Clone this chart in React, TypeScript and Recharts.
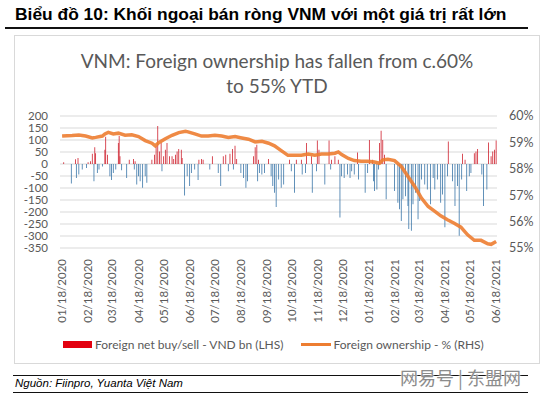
import React from "react";
import {
  Bar,
  CartesianGrid,
  Cell,
  ComposedChart,
  Line,
  XAxis,
  YAxis,
} from "recharts";

// x positions are days since 18 Jan 2020
const tickLabels = [
  "01/18/2020", "02/18/2020", "03/18/2020", "04/18/2020", "05/18/2020", "06/18/2020",
  "07/18/2020", "08/18/2020", "09/18/2020", "10/18/2020", "11/18/2020", "12/18/2020",
  "01/18/2021", "02/18/2021", "03/18/2021", "04/18/2021", "05/18/2021", "06/18/2021",
];

const flowDays = [
  2, 11, 16, 17, 19, 20, 24, 29, 31, 34, 36, 38, 39, 40, 42, 44, 48, 51, 52, 54,
  57, 59, 61, 64, 67, 68, 69, 71, 77, 80, 85, 86, 87, 89, 91, 93, 96, 99, 101, 107,
  110, 112, 114, 116, 118, 119, 121, 123, 125, 128, 131, 133, 135, 137, 139, 142, 143, 146, 149, 152,
  154, 158, 162, 163, 166, 168, 176, 179, 186, 189, 192, 195, 198, 200, 203, 204, 206, 208, 213, 216,
  219, 221, 228, 230, 232, 233, 234, 235, 238, 241, 246, 249, 251, 253, 255, 258, 261, 264, 271, 273,
  277, 279, 285, 286, 290, 291, 297, 298, 303, 304, 306, 313, 318, 320, 321, 325, 329, 331, 333, 336,
  340, 343, 345, 348, 352, 353, 361, 364, 366, 370, 371, 372, 375, 377, 378, 380, 382, 384, 386, 396,
  400, 402, 404, 406, 409, 412, 413, 416, 418, 421, 424, 426, 428, 432, 435, 439, 442, 444, 447, 451,
  453, 456, 459, 460, 465, 468, 471, 473, 476, 477, 480, 482, 485, 487, 491, 493, 495, 500, 502, 506,
  508, 511, 513, 515, 517,
];

const flowValues = [
  7, -81, 20, -58, 25, -44, -23, -17, 7, 11, 43, -72, 70, 45, -37, -23, -10, 59, 114, 39,
  -51, -67, -37, -23, 87, 117, 32, -26, -58, 18, 21, -23, 11, -85, -51, -72, -99, -51, -78, 18,
  39, 73, 158, 52, 87, -30, 32, 59, 87, 32, 32, 21, 39, 52, 62, 59, 25, -131, -51, -92,
  -37, -23, -67, 18, 21, 18, -23, 32, -37, -92, 32, 39, -30, 43, 62, -23, 76, 21, -37, -58,
  -99, -72, 32, 70, 80, -72, 18, -37, -44, -37, 21, -51, -92, -120, -179, -65, -99, -85, 18, -30,
  -120, 18, 18, -44, -37, 87, 32, -120, -30, 98, 59, -85, 98, -23, 18, 32, 18, -223, -51, -58,
  -44, -58, -30, -44, 48, -65, -120, -37, 100, 18, -72, -113, -106, -23, 87, 139, 100, 39, -147, -113,
  -161, -189, -237, -147, -134, -175, -271, -278, -168, -120, -230, -154, -65, -85, -106, -168, -58, -106, -65, -161,
  -127, -264, -51, 94, -72, -175, -92, -299, -65, 43, 18, -113, -51, -37, 45, 52, 62, -44, -175, -106,
  90, 32, 52, 59, 98,
];

const ownDays = [
  0, 12, 20, 28, 36, 40, 48, 51, 55, 61, 67, 75, 83, 91, 99, 107, 111, 115, 123, 131,
  139, 147, 150, 158, 166, 174, 182, 190, 198, 206, 214, 222, 230, 238, 246, 253, 261, 269, 277, 285,
  293, 301, 309, 317, 325, 329, 333, 341, 348, 356, 364, 372, 378, 382, 388, 396, 404, 412, 420, 428,
  436, 444, 451, 459, 467, 475, 483, 491, 499, 507, 511, 517,
];

const ownValues = [
  59.24, 59.26, 59.28, 59.24, 59.17, 59.19, 59.24, 59.32, 59.38, 59.32, 59.35, 59.27, 59.29, 59.22, 59.07, 58.97, 58.87, 58.99, 59.14, 59.27,
  59.37, 59.42, 59.4, 59.32, 59.24, 59.24, 59.27, 59.24, 59.19, 59.22, 59.17, 59.12, 59.02, 59.04, 58.97, 58.87, 58.69, 58.51, 58.51, 58.51,
  58.56, 58.51, 58.56, 58.56, 58.59, 58.64, 58.54, 58.39, 58.31, 58.29, 58.29, 58.26, 58.21, 58.34, 58.36, 58.31, 58.09, 57.71, 57.33, 56.89,
  56.57, 56.39, 56.22, 56.07, 55.94, 55.79, 55.5, 55.29, 55.29, 55.16, 55.14, 55.25,
];

const leftTicks = [-350, -300, -250, -200, -150, -100, -50, 0, 50, 100, 150, 200];
const rightTicks = [55, 56, 57, 58, 59, 60];

const toDay = (s: string) => {
  const [m, d, y] = s.split("/").map(Number);
  return Math.round((Date.UTC(y, m - 1, d) - Date.UTC(2020, 0, 18)) / 86400000);
};
const tickDays = tickLabels.map(toDay);
const labelByDay: Record<number, string> = {};
tickLabels.forEach((l, i) => (labelByDay[tickDays[i]] = l));

const rows: Record<number, { day: number; flow?: number; own?: number }> = {};
flowDays.forEach((d, i) => {
  rows[d] = { ...(rows[d] || { day: d }), flow: flowValues[i] };
});
ownDays.forEach((d, i) => {
  rows[d] = { ...(rows[d] || { day: d }), own: ownValues[i] };
});
const data = Object.values(rows).sort((a, b) => a.day - b.day);

const grey = "#595959";
const chartFont = "Lato, 'Noto Sans', sans-serif";

const DateTick = (props: any) => {
  const { x, y, payload } = props;
  const tx = x + 4;
  const ty = y + 3;
  return (
    <text
      x={tx}
      y={ty}
      transform={`rotate(-90 ${tx} ${ty})`}
      textAnchor="end"
      fontSize={11.5}
      fill={grey}
      fontFamily={chartFont}
    >
      {labelByDay[payload.value]}
    </text>
  );
};

export default function App() {
  return (
    <div
      style={{
        position: "absolute",
        left: 0,
        top: 0,
        width: 546,
        height: 397,
        background: "#fff",
        overflow: "hidden",
      }}
    >
      <div
        style={{
          position: "absolute",
          left: 15,
          top: 4,
          fontFamily: "'Liberation Sans', Arial, sans-serif",
          fontWeight: "bold",
          fontSize: 17.4,
          color: "#000",
          whiteSpace: "nowrap",
        }}
      >
        Biểu đồ 10: Khối ngoại bán ròng VNM với một giá trị rất lớn
      </div>
      <div style={{ position: "absolute", left: 5, top: 27, width: 523, height: 1.5, background: "#111" }} />

      <div
        style={{
          position: "absolute",
          left: 14,
          top: 35,
          width: 526,
          height: 329,
          border: "1px solid #d9d9d9",
          boxSizing: "border-box",
        }}
      />
      <div
        style={{
          position: "absolute",
          left: 14,
          width: 526,
          top: 48,
          textAlign: "center",
          fontFamily: chartFont,
          fontSize: 19,
          lineHeight: "25px",
          color: grey,
        }}
      >
        VNM: Foreign ownership has fallen from c.60%
        <br />
        to 55% YTD
      </div>

      <div style={{ position: "absolute", left: 0, top: 0 }}>
        <ComposedChart
          width={546}
          height={397}
          data={data}
          margin={{ top: 116, right: 0, bottom: 79, left: 0 }}
        >
          <CartesianGrid yAxisId="left" vertical={false} stroke="#d9d9d9" />
          <XAxis
            dataKey="day"
            type="number"
            domain={[-2.5, 518]}
            ticks={tickDays}
            interval={0}
            height={70}
            axisLine={false}
            tickLine={false}
            tick={<DateTick />}
          />
          <YAxis
            yAxisId="left"
            domain={[-350, 200]}
            ticks={leftTicks}
            interval={0}
            width={60}
            axisLine={false}
            tickLine={false}
            tickSize={6}
            tickMargin={6}
            tick={{ fill: grey, fontSize: 11.5, fontFamily: chartFont }}
          />
          <YAxis
            yAxisId="right"
            orientation="right"
            domain={[55, 60]}
            ticks={rightTicks}
            interval={0}
            width={49}
            axisLine={false}
            tickLine={false}
            tickSize={6}
            tickMargin={6}
            tickFormatter={(v: number) => `${v}%`}
            tick={{ fill: grey, fontSize: 12.5, fontFamily: chartFont, textAnchor: "start" }}
          />
          <Bar yAxisId="left" dataKey="flow" barSize={2} isAnimationActive={false}>
            {data.map((d, i) => (
              <Cell key={i} fill={(d.flow ?? 0) >= 0 ? "#cc1422" : "#2f6ea3"} />
            ))}
          </Bar>
          <Line
            yAxisId="right"
            dataKey="own"
            type="linear"
            stroke="#ed7d31"
            strokeWidth={3.5}
            strokeOpacity={0.9}
            dot={false}
            connectNulls
            isAnimationActive={false}
          />
        </ComposedChart>
      </div>

      <div
        style={{
          position: "absolute",
          left: 63,
          top: 337,
          display: "flex",
          alignItems: "center",
          fontFamily: chartFont,
          fontSize: 12,
          color: grey,
          whiteSpace: "nowrap",
        }}
      >
        <span style={{ display: "inline-block", width: 29, height: 7, background: "#e3000f", marginRight: 3 }} />
        <span>Foreign net buy/sell - VND bn (LHS)</span>
        <span style={{ display: "inline-block", width: 30, height: 3, background: "#ed7d31", marginLeft: 18, marginRight: 2 }} />
        <span>Foreign ownership - % (RHS)</span>
      </div>

      <div style={{ position: "absolute", left: 13, top: 375, width: 515, height: 1, background: "#111" }} />
      <div
        style={{
          position: "absolute",
          left: 15,
          top: 377,
          fontFamily: "'Liberation Sans', Arial, sans-serif",
          fontStyle: "italic",
          fontSize: 11.5,
          color: "#000",
          whiteSpace: "nowrap",
        }}
      >
        Nguồn: Fiinpro, Yuanta Việt Nam
      </div>
      <div style={{ position: "absolute", left: 13, top: 392, width: 515, height: 1, background: "#111" }} />
      <div
        style={{
          position: "absolute",
          left: 400,
          top: 364,
          fontFamily: "'Noto Sans CJK SC', sans-serif",
          fontSize: 18,
          color: "#8c8c8c",
          whiteSpace: "nowrap",
          textShadow: "0 0 2px #fff, 0 0 2px #fff",
        }}
      >
        网易号 | 东盟网
      </div>
    </div>
  );
}
